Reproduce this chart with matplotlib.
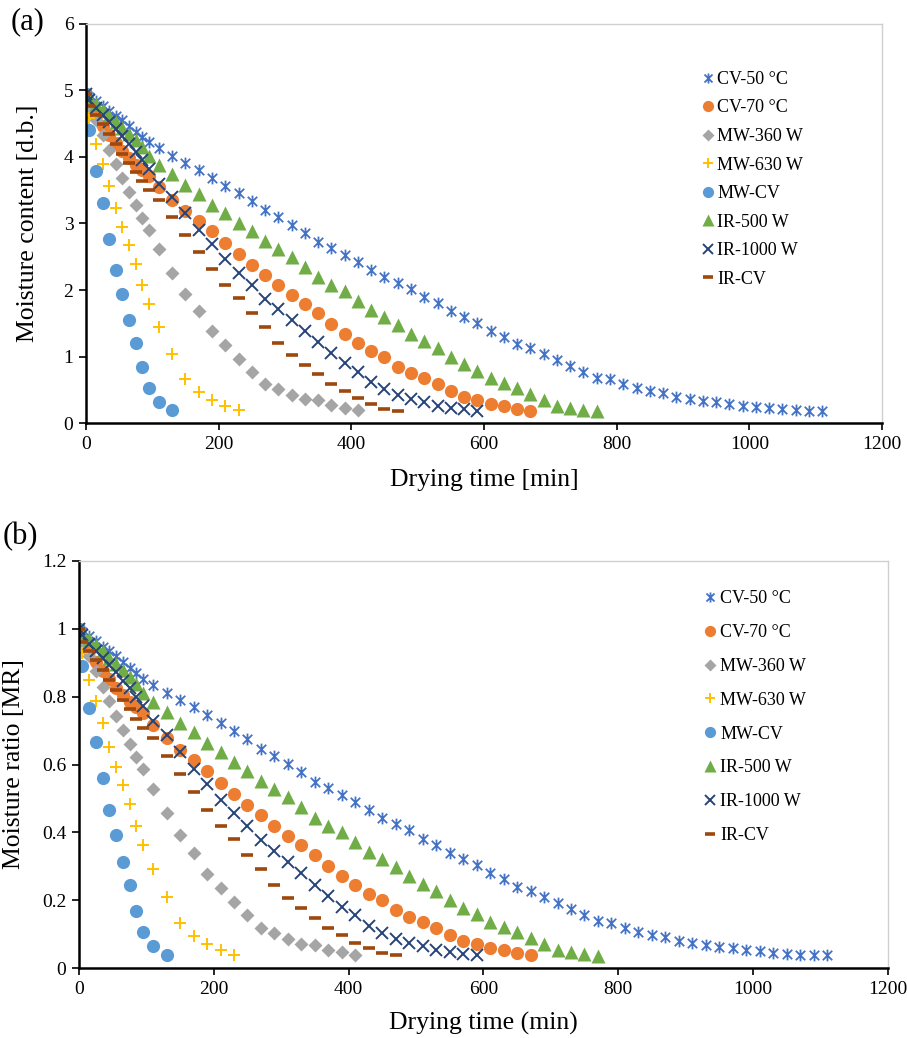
import matplotlib
matplotlib.use("Agg")
import matplotlib.pyplot as plt
from matplotlib.path import Path
from matplotlib.ticker import FuncFormatter, MultipleLocator

plt.rcParams['font.family'] = ['Liberation Serif', 'DejaVu Serif']

# sampling times [min], shared by all runs (each run stops earlier)
TIME = [0, 5, 15, 25, 35, 45, 55, 65, 75, 85, 95, 110, 130, 150, 170, 190, 210,
        230, 250, 270, 290, 310, 330, 350, 370, 390, 410, 430, 450, 470, 490, 510,
        530, 550, 570, 590, 610, 630, 650, 670, 690, 710, 730, 750, 770, 790, 810,
        830, 850, 870, 890, 910, 930, 950, 970, 990, 1010, 1030, 1050, 1070, 1090,
        1110]

labels = ['CV-50 °C', 'CV-70 °C', 'MW-360 W', 'MW-630 W', 'MW-CV',
          'IR-500 W', 'IR-1000 W', 'IR-CV']

# moisture content [d.b.]
mc_cv50 = [4.95, 4.90, 4.84, 4.77, 4.69, 4.62, 4.55, 4.46, 4.38, 4.30, 4.22, 4.13,
           4.02, 3.91, 3.80, 3.69, 3.57, 3.46, 3.34, 3.20, 3.09, 2.98, 2.86, 2.72,
           2.63, 2.52, 2.42, 2.30, 2.20, 2.11, 2.02, 1.89, 1.80, 1.68, 1.59, 1.50,
           1.39, 1.30, 1.19, 1.13, 1.04, 0.95, 0.86, 0.77, 0.685, 0.66, 0.59, 0.535,
           0.49, 0.45, 0.40, 0.365, 0.335, 0.315, 0.29, 0.265, 0.25, 0.225, 0.215,
           0.20, 0.19, 0.185]
mc_cv70 = [4.95, 4.78, 4.62, 4.47, 4.33, 4.21, 4.09, 3.98, 3.88, 3.80, 3.72, 3.55,
           3.36, 3.19, 3.04, 2.88, 2.70, 2.54, 2.38, 2.23, 2.08, 1.93, 1.79, 1.65,
           1.49, 1.34, 1.21, 1.09, 0.99, 0.85, 0.75, 0.675, 0.59, 0.49, 0.40, 0.35,
           0.29, 0.26, 0.22, 0.19]
mc_mw360 = [4.95, 4.75, 4.55, 4.33, 4.10, 3.89, 3.68, 3.47, 3.27, 3.08, 2.90, 2.62,
            2.26, 1.94, 1.68, 1.38, 1.18, 0.97, 0.77, 0.585, 0.51, 0.43, 0.36, 0.345,
            0.27, 0.235, 0.195]
mc_mw630 = [4.95, 4.59, 4.20, 3.89, 3.57, 3.23, 2.94, 2.67, 2.39, 2.07, 1.79, 1.45,
            1.04, 0.66, 0.47, 0.35, 0.26, 0.20]
mc_mwcv = [4.95, 4.41, 3.79, 3.30, 2.77, 2.30, 1.94, 1.55, 1.21, 0.84, 0.53, 0.32,
           0.20]
mc_ir500 = [4.95, 4.88, 4.80, 4.71, 4.62, 4.53, 4.43, 4.35, 4.25, 4.15, 4.02, 3.88,
            3.74, 3.58, 3.44, 3.28, 3.15, 3.01, 2.88, 2.73, 2.62, 2.49, 2.35, 2.19,
            2.07, 1.98, 1.84, 1.70, 1.59, 1.48, 1.34, 1.23, 1.13, 1.00, 0.885, 0.785,
            0.68, 0.60, 0.53, 0.44, 0.35, 0.26, 0.235, 0.205, 0.185]
mc_ir1000 = [4.95, 4.85, 4.73, 4.63, 4.53, 4.42, 4.31, 4.19, 4.08, 3.95, 3.82, 3.60,
             3.40, 3.15, 2.90, 2.69, 2.46, 2.26, 2.07, 1.87, 1.71, 1.55, 1.39, 1.22,
             1.05, 0.90, 0.77, 0.625, 0.51, 0.42, 0.365, 0.32, 0.26, 0.235, 0.215,
             0.19]
mc_ircv = [4.95, 4.76, 4.63, 4.49, 4.35, 4.20, 4.05, 3.91, 3.78, 3.64, 3.50, 3.36,
           3.10, 2.83, 2.57, 2.31, 2.08, 1.88, 1.65, 1.45, 1.21, 1.02, 0.875, 0.74,
           0.595, 0.485, 0.375, 0.295, 0.22, 0.19]

# moisture ratio [MR]
mr_cv50 = [1.000, 0.990, 0.978, 0.964, 0.947, 0.933, 0.919, 0.901, 0.885, 0.869,
           0.853, 0.834, 0.812, 0.790, 0.768, 0.745, 0.721, 0.699, 0.675, 0.646,
           0.624, 0.602, 0.578, 0.549, 0.531, 0.509, 0.489, 0.465, 0.444, 0.426,
           0.408, 0.382, 0.364, 0.339, 0.321, 0.303, 0.281, 0.263, 0.240, 0.228,
           0.210, 0.192, 0.174, 0.156, 0.138, 0.133, 0.119, 0.108, 0.099, 0.091,
           0.081, 0.074, 0.068, 0.064, 0.059, 0.054, 0.051, 0.045, 0.043, 0.040,
           0.039, 0.038]
mr_cv70 = [1.000, 0.966, 0.933, 0.903, 0.875, 0.851, 0.826, 0.804, 0.784, 0.768,
           0.752, 0.717, 0.679, 0.644, 0.614, 0.582, 0.545, 0.513, 0.481, 0.451,
           0.420, 0.390, 0.362, 0.333, 0.301, 0.271, 0.244, 0.220, 0.200, 0.172,
           0.152, 0.136, 0.119, 0.099, 0.081, 0.071, 0.059, 0.053, 0.044, 0.038]
mr_mw360 = [1.000, 0.960, 0.919, 0.875, 0.828, 0.786, 0.743, 0.701, 0.661, 0.622,
            0.586, 0.529, 0.457, 0.392, 0.339, 0.279, 0.238, 0.196, 0.156, 0.118,
            0.103, 0.087, 0.073, 0.070, 0.055, 0.047, 0.039]
mr_mw630 = [1.000, 0.927, 0.848, 0.786, 0.721, 0.653, 0.594, 0.539, 0.483, 0.418,
            0.362, 0.293, 0.210, 0.133, 0.095, 0.071, 0.053, 0.040]
mr_mwcv = [1.000, 0.891, 0.766, 0.667, 0.560, 0.465, 0.392, 0.313, 0.244, 0.170,
           0.107, 0.065, 0.040]
mr_ir500 = [1.000, 0.986, 0.970, 0.952, 0.933, 0.915, 0.895, 0.879, 0.859, 0.838,
            0.812, 0.784, 0.756, 0.723, 0.695, 0.663, 0.636, 0.608, 0.582, 0.552,
            0.529, 0.503, 0.475, 0.442, 0.418, 0.400, 0.372, 0.343, 0.321, 0.299,
            0.271, 0.248, 0.228, 0.202, 0.179, 0.159, 0.137, 0.121, 0.107, 0.089,
            0.071, 0.053, 0.047, 0.041, 0.037]
mr_ir1000 = [1.000, 0.980, 0.956, 0.935, 0.915, 0.893, 0.871, 0.846, 0.824, 0.798,
             0.772, 0.727, 0.687, 0.636, 0.586, 0.543, 0.497, 0.457, 0.418, 0.378,
             0.345, 0.313, 0.281, 0.246, 0.212, 0.182, 0.156, 0.126, 0.103, 0.085,
             0.074, 0.065, 0.053, 0.047, 0.043, 0.038]
mr_ircv = [1.000, 0.962, 0.935, 0.907, 0.879, 0.848, 0.818, 0.790, 0.764, 0.735,
           0.707, 0.679, 0.626, 0.572, 0.519, 0.467, 0.420, 0.380, 0.333, 0.293,
           0.244, 0.206, 0.177, 0.149, 0.120, 0.098, 0.076, 0.060, 0.044, 0.038]

mc_all = [mc_cv50, mc_cv70, mc_mw360, mc_mw630, mc_mwcv, mc_ir500, mc_ir1000, mc_ircv]
mr_all = [mr_cv50, mr_cv70, mr_mw360, mr_mw630, mr_mwcv, mr_ir500, mr_ir1000, mr_ircv]

# excel-like "star" marker: an x with a vertical bar
star = Path([(-1, -1), (1, 1), (-1, 1), (1, -1), (0, -1.25), (0, 1.25)],
            [Path.MOVETO, Path.LINETO, Path.MOVETO, Path.LINETO, Path.MOVETO, Path.LINETO])

colors = ['#4472C4', '#ED7D31', '#A5A5A5', '#FFC000', '#5B9BD5', '#70AD47', '#264478', '#9E480E']
markers = [star, 'o', 'D', '+', 'o', '^', 'x', '_']
sizes = [8.5, 9.5, 7, 9, 9.5, 9.5, 8.5, 9]
edge_w = [1.3, 0, 0, 1.4, 0, 0, 1.4, 2.6]


def draw_panel(ax, data, ylim, ystep, ylabel, xlabel, tag, tag_y, ypad, xpad,
               leg_anchor, leg_space):
    for vals, lab, c, m, s, ew in zip(data, labels, colors, markers, sizes, edge_w):
        t = TIME[:len(vals)]
        if ew == 0:
            ax.plot(t, vals, ls='none', marker=m, ms=s, color=c, mec='none', label=lab)
        else:
            ax.plot(t, vals, ls='none', marker=m, ms=s, color=c, mew=ew, label=lab)
    ax.set_xlim(0, 1200)
    ax.set_ylim(0, ylim)
    ax.xaxis.set_major_locator(MultipleLocator(200))
    ax.yaxis.set_major_locator(MultipleLocator(ystep))
    ax.yaxis.set_major_formatter(FuncFormatter(lambda v, p: '%g' % round(v, 2)))
    ax.tick_params(direction='out', length=5, width=1.2, labelsize=14, pad=4)
    for side in ['left', 'bottom']:
        ax.spines[side].set_linewidth(1.8)
        ax.spines[side].set_color('black')
    for side in ['top', 'right']:
        ax.spines[side].set_linewidth(1.0)
        ax.spines[side].set_color('#d0d0d0')
    ax.set_ylabel(ylabel, fontsize=18.5, labelpad=ypad)
    ax.set_xlabel(xlabel, fontsize=18.5, labelpad=xpad)
    ax.text(-0.095, tag_y, tag, transform=ax.transAxes, fontsize=22, va='center', ha='left')
    ax.legend(loc='upper left', bbox_to_anchor=leg_anchor, frameon=False, fontsize=13,
              handlelength=0.6, handletextpad=0.25, labelspacing=leg_space,
              markerscale=0.85, borderaxespad=0)


fig = plt.figure(figsize=(9.07, 10.38), dpi=100)
ax1 = fig.add_axes([0.0948, 0.5922, 0.8776, 0.3850])
ax2 = fig.add_axes([0.0871, 0.0671, 0.8917, 0.3927])

draw_panel(ax1, mc_all, 6, 1, 'Moisture content [d.b.]', 'Drying time [min]', '(a)',
           1.005, 18, 12, (0.765, 0.9), 0.64)
draw_panel(ax2, mr_all, 1.2, 0.2, 'Moisture ratio [MR]', 'Drying time (min)', '(b)',
           1.06, 12, 10, (0.765, 0.945), 0.93)

fig.savefig('out.png', dpi=100)
